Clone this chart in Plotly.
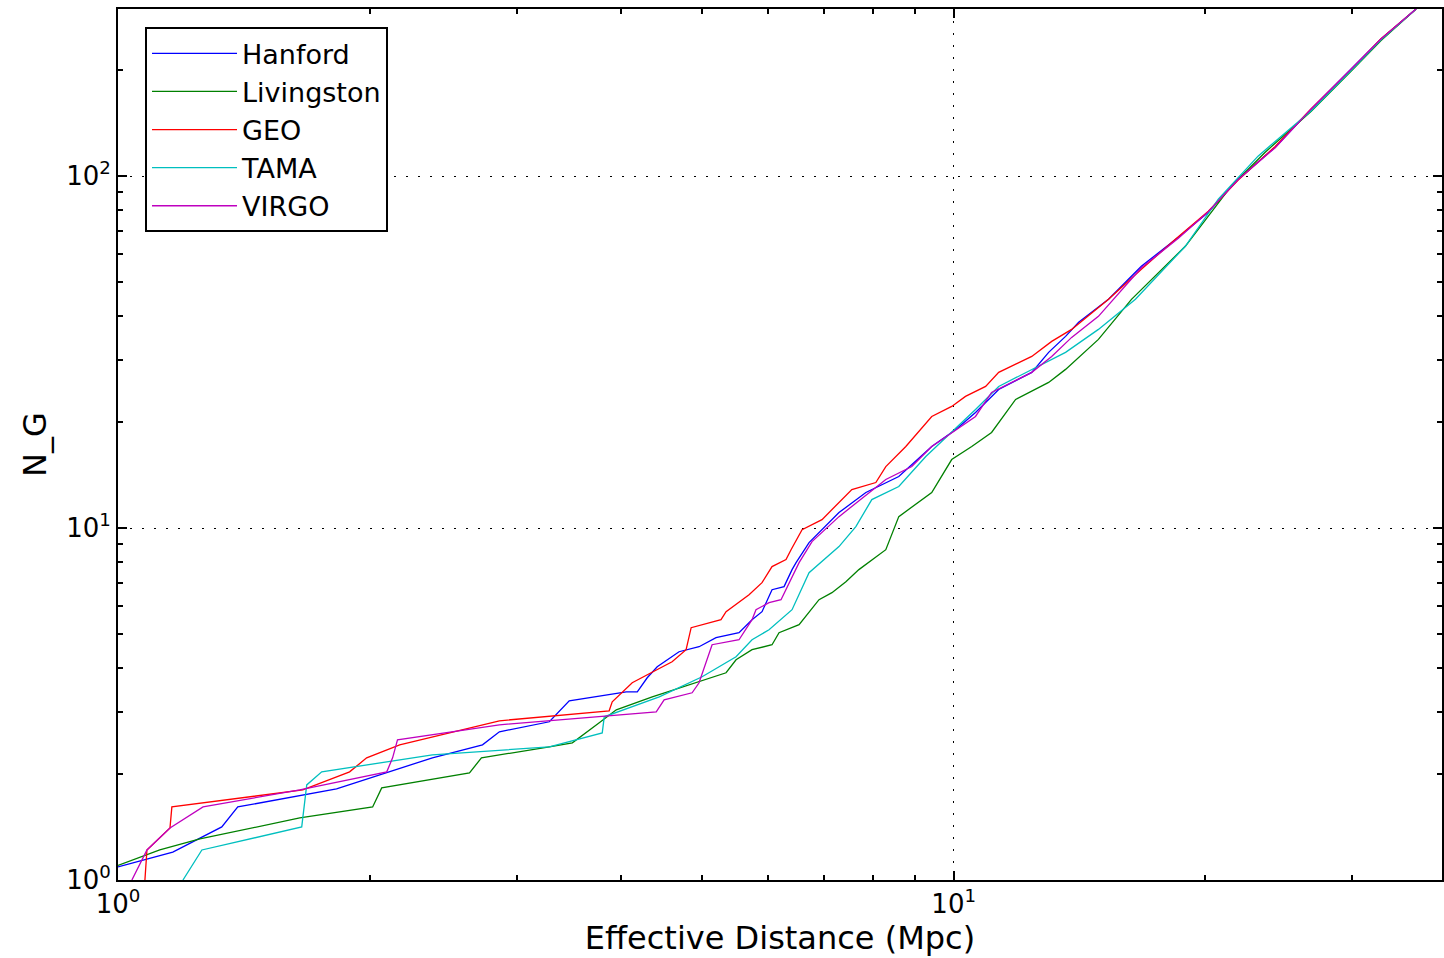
import plotly.graph_objects as go

# ---- data (data coordinates) ----
hanford_x = [1.00, 1.163, 1.331, 1.391, 1.826, 2.378, 2.730, 2.860, 3.282, 3.467, 4.057, 4.182, 4.298,
             4.418, 4.692, 4.958, 5.195, 5.535, 5.737, 5.897, 6.062, 6.266, 6.406, 6.477, 6.713, 7.290,
             7.851, 8.596, 9.413, 10.06, 10.62, 11.32, 12.40, 12.99, 13.61, 14.11, 15.32, 16.77, 18.57,
             20.17, 21.90, 24.25, 26.78, 29.90, 32.46, 35.75]
hanford_y = [1.09, 1.20, 1.415, 1.613, 1.815, 2.224, 2.421, 2.637, 2.816, 3.230, 3.426, 3.426, 3.756,
             4.036, 4.453, 4.601, 4.881, 5.042, 5.491, 5.787, 6.683, 6.817, 7.621, 7.979, 9.094, 11.07,
             12.62, 14.01, 17.06, 19.06, 21.31, 24.77, 27.70, 31.57, 35.06, 38.43, 44.68, 55.46, 67.07,
             79.0, 98.06, 120.9, 155.1, 201.6, 245.3, 298.6]

livingston_x = [1.00, 1.122, 1.253, 1.650, 2.017, 2.068, 2.634, 2.722, 3.282, 3.497, 3.766, 3.947,
                4.358, 4.918, 5.341, 5.490, 5.737, 6.062, 6.180, 6.531, 6.900, 7.150, 7.430, 7.701,
                8.294, 8.596, 9.413, 9.945, 10.51, 11.10, 11.86, 12.99, 13.61, 14.90, 16.32, 18.93,
                21.48, 23.59, 26.78, 29.90, 32.46, 35.75]
livingston_y = [1.10, 1.217, 1.308, 1.501, 1.613, 1.827, 2.016, 2.224, 2.390, 2.453, 2.797, 3.045,
                3.316, 3.635, 3.881, 4.226, 4.512, 4.662, 5.042, 5.314, 6.260, 6.554, 7.044, 7.621,
                8.682, 10.78, 12.62, 15.66, 17.06, 18.70, 23.21, 25.94, 28.25, 34.38, 44.68, 63.22,
                93.67, 117.0, 153.0, 199.0, 243.0, 298.6]

geo_x = [1.077, 1.083, 1.154, 1.160, 1.664, 1.893, 1.984, 2.173, 2.860, 3.870, 3.903, 4.124, 4.322,
         4.603, 4.784, 4.851, 5.267, 5.341, 5.690, 5.897, 6.062, 6.300, 6.388, 6.585, 6.957, 7.553,
         8.069, 8.294, 8.764, 9.413, 9.945, 10.33, 10.92, 11.32, 12.40, 13.10, 13.84, 15.32, 16.77,
         18.42, 20.17, 21.90, 24.25, 26.78, 29.90, 32.46, 35.75]
geo_y = [1.00, 1.217, 1.406, 1.613, 1.803, 2.029, 2.224, 2.421, 2.834, 3.025, 3.209, 3.635, 3.856,
         4.171, 4.512, 5.211, 5.491, 5.787, 6.468, 6.998, 7.772, 8.137, 8.682, 9.901, 10.57, 12.87,
         13.47, 14.96, 17.06, 20.76, 22.17, 23.67, 25.27, 27.70, 30.75, 33.93, 36.70, 44.68, 54.38,
         66.20, 79.5, 97.5, 121.5, 155.5, 201.0, 245.8, 298.6]

tama_x = [1.196, 1.260, 1.659, 1.682, 1.753, 2.378, 3.282, 3.797, 3.818, 4.443, 5.000, 5.341, 5.490,
          5.737, 6.012, 6.406, 6.713, 7.290, 7.637, 7.980, 8.596, 9.260, 9.945, 10.62, 11.32, 12.40,
          13.61, 14.90, 16.50, 18.93, 20.73, 23.13, 26.78, 29.90, 32.46, 35.75]
tama_y = [1.00, 1.217, 1.415, 1.863, 2.029, 2.268, 2.390, 2.619, 2.909, 3.316, 3.781, 4.143, 4.309,
          4.817, 5.142, 5.864, 7.471, 8.859, 10.10, 12.05, 13.13, 15.97, 18.70, 21.74, 25.27, 28.25,
          31.57, 36.70, 44.68, 63.22, 86.03, 114.0, 153.5, 200.0, 244.0, 298.6]

virgo_x = [1.039, 1.083, 1.154, 1.264, 1.650, 2.097, 2.131, 2.160, 2.860, 4.406, 4.503, 4.864, 4.958,
           5.139, 5.535, 5.737, 5.800, 6.012, 6.214, 6.531, 6.768, 7.290, 8.294, 8.910, 9.413, 9.945,
           10.62, 11.10, 12.40, 13.10, 13.84, 14.90, 15.53, 16.77, 18.57, 20.17, 21.90, 24.25, 26.78,
           29.90, 32.46, 35.75]
virgo_y = [1.00, 1.217, 1.406, 1.613, 1.803, 2.029, 2.224, 2.502, 2.761, 3.006, 3.251, 3.404, 3.635,
           4.662, 4.817, 5.491, 5.864, 6.138, 6.260, 7.979, 9.154, 10.78, 13.74, 14.96, 17.06, 18.70,
           20.76, 24.30, 27.70, 30.75, 34.83, 39.97, 44.68, 54.9, 66.6, 79.3, 97.8, 120.5, 155.3,
           201.3, 245.5, 298.6]

series_names = ["Hanford", "Livingston", "GEO", "TAMA", "VIRGO"]
series_colors = ["#0000ff", "#008000", "#ff0000", "#00bfbf", "#bf00bf"]
series_x = [hanford_x, livingston_x, geo_x, tama_x, virgo_x]
series_y = [hanford_y, livingston_y, geo_y, tama_y, virgo_y]

tick_vals = [1, 10, 100]
tick_text = ["10<sup>0</sup>", "10<sup>1</sup>", "10<sup>2</sup>"]
minor_x = [2, 3, 4, 5, 6, 7, 8, 9, 20, 30]
minor_y = [2, 3, 4, 5, 6, 7, 8, 9, 20, 30, 40, 50, 60, 70, 80, 90, 200, 300]

fig = go.Figure()
for name, color, xs, ys in zip(series_names, series_colors, series_x, series_y):
    fig.add_trace(go.Scatter(x=xs, y=ys, mode="lines", name=name,
                             line=dict(color=color, width=1.3)))

font_family = "DejaVu Sans, sans-serif"
axis_common = dict(
    type="log",
    showline=True, linecolor="black", linewidth=2, mirror="allticks",
    ticks="inside", ticklen=9, tickwidth=1.5, tickcolor="black",
    showgrid=True, gridcolor="black", gridwidth=1, griddash="2px,10px",
    zeroline=False,
    tickfont=dict(family=font_family, size=26, color="black"),
)

fig.update_xaxes(
    **axis_common,
    range=[0, 1.5843],
    tickvals=tick_vals, ticktext=tick_text,
    minor=dict(ticks="inside", ticklen=5, tickcolor="black", tickvals=minor_x, showgrid=False),
    title=dict(text="Effective Distance (Mpc)", font=dict(family=font_family, size=32, color="black"),
               standoff=6),
)
fig.update_yaxes(
    **axis_common,
    range=[0, 2.4751],
    tickvals=tick_vals, ticktext=tick_text,
    minor=dict(ticks="inside", ticklen=5, tickcolor="black", tickvals=minor_y, showgrid=False),
    title=dict(text="N_G", font=dict(family=font_family, size=32, color="black"), standoff=10),
)

fig.update_layout(
    width=1444, height=958,
    margin=dict(l=118, r=0, t=9, b=78),
    paper_bgcolor="white", plot_bgcolor="white",
    font=dict(family=font_family, color="black"),
    showlegend=True,
    legend=dict(
        x=0.0204, y=0.979, xanchor="left", yanchor="top",
        bgcolor="white", bordercolor="black", borderwidth=2,
        font=dict(family=font_family, size=27, color="black"),
        tracegroupgap=0, itemwidth=85, entrywidth=300, entrywidthmode="pixels",
    ),
)

fig.write_html("out.html")
